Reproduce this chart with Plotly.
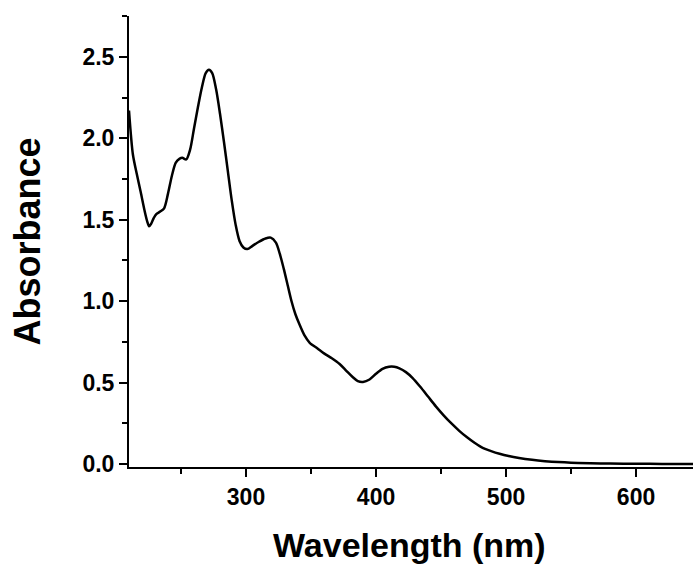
import plotly.graph_objects as go

wavelength = [210, 213, 216, 219, 222, 224, 225.5, 227, 229, 231, 234, 237, 240, 243, 246, 249, 251, 254,
              257, 260, 263, 266, 269, 271.5, 274, 277, 280, 283, 286, 289, 292, 295, 298, 301,
              305, 310, 315, 319, 323, 326, 329, 332, 335, 338, 341, 345, 349, 355, 360, 366,
              372, 377, 382, 386, 390, 395, 400, 405, 410, 414, 418, 423, 428, 434, 440, 446,
              452, 458, 464, 470, 476, 482, 488, 495, 502, 510, 520, 530, 540, 550, 565, 580,
              600, 620, 644]
absorbance = [2.17, 1.90, 1.78, 1.67, 1.555, 1.49, 1.46, 1.475, 1.51, 1.535, 1.55, 1.57, 1.66, 1.77, 1.85, 1.875, 1.88, 1.87,
              1.93, 2.06, 2.19, 2.31, 2.40, 2.42, 2.40, 2.30, 2.15, 1.98, 1.80, 1.62, 1.47, 1.37, 1.33, 1.32,
              1.34, 1.365, 1.385, 1.39, 1.36, 1.29, 1.20, 1.10, 1.00, 0.92, 0.86, 0.79, 0.745, 0.71, 0.68, 0.65,
              0.615, 0.575, 0.535, 0.51, 0.505, 0.52, 0.555, 0.585, 0.598, 0.598, 0.588, 0.565, 0.53, 0.475, 0.415, 0.355,
              0.30, 0.25, 0.205, 0.165, 0.13, 0.10, 0.082, 0.064, 0.05, 0.038, 0.027, 0.019, 0.013, 0.009, 0.006, 0.004,
              0.003, 0.002, 0.002]

x_ticks = [300, 400, 500, 600]
y_ticks = [0.0, 0.5, 1.0, 1.5, 2.0, 2.5]
y_tick_labels = ["0.0", "0.5", "1.0", "1.5", "2.0", "2.5"]

fig = go.Figure()
fig.add_trace(go.Scatter(x=wavelength, y=absorbance, mode="lines",
                         line=dict(color="black", width=2.5, shape="spline", smoothing=0.8),
                         showlegend=False, hoverinfo="skip"))

font_tick = dict(family="Liberation Sans, Arial, sans-serif", size=23, color="black")
fig.update_layout(
    width=693, height=565,
    margin=dict(l=129, r=0, t=16, b=98),
    paper_bgcolor="white", plot_bgcolor="white",
    font=dict(family="Liberation Sans, Arial, sans-serif", color="black"),
    xaxis=dict(range=[210, 643.8], tickmode="array", tickvals=x_ticks,
               ticktext=[f"<b>{v}</b>" for v in x_ticks],
               ticks="outside", ticklen=8, tickwidth=2, tickcolor="black",
               minor=dict(dtick=50, tick0=0, ticks="outside", ticklen=5, tickwidth=1.5, tickcolor="black"),
               showline=True, linecolor="black", linewidth=2, showgrid=False, zeroline=False,
               tickfont=font_tick, fixedrange=True),
    yaxis=dict(range=[-0.017, 2.75], tickmode="array", tickvals=y_ticks,
               ticktext=[f"<b>{t}</b>" for t in y_tick_labels],
               ticks="outside", ticklen=8, tickwidth=2, tickcolor="black",
               minor=dict(dtick=0.25, tick0=0, ticks="outside", ticklen=5, tickwidth=1.5, tickcolor="black"),
               showline=True, linecolor="black", linewidth=2, showgrid=False, zeroline=False,
               tickfont=font_tick, fixedrange=True),
    annotations=[
        dict(text="<b>Wavelength (nm)</b>", xref="paper", yref="paper", x=0.5, y=0,
             xshift=409 - (129 + 282), yshift=-78, xanchor="center", yanchor="middle", showarrow=False,
             font=dict(family="Liberation Sans, Arial, sans-serif", size=34, color="black")),
        dict(text="<b>Absorbance</b>", xref="paper", yref="paper", x=0, y=0.5,
             xshift=-102, yshift=0, xanchor="center", yanchor="middle", showarrow=False, textangle=-90,
             font=dict(family="Liberation Sans, Arial, sans-serif", size=36, color="black")),
    ],
)

fig.write_html("out.html")
